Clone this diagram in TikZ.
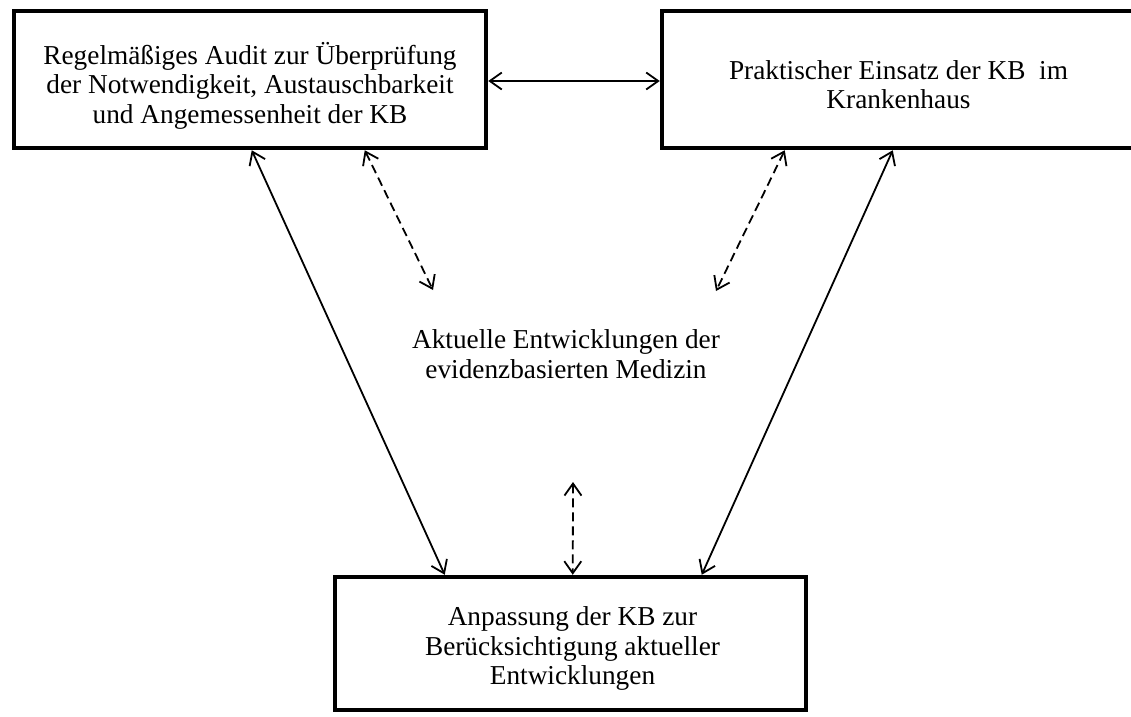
\documentclass[tikz,border=0pt]{standalone}
\usepackage{fontspec}
\setmainfont{Liberation Serif}
\usetikzlibrary{arrows.meta,calc}
\begin{document}
\begin{tikzpicture}[x=1pt,y=-1pt,
  txt/.style={font=\fontsize{27.3}{29.5}\selectfont},
  box/.style={draw, line width=4.5pt, rectangle, inner sep=0pt},
  boxtext/.style={align=center, inner sep=0pt, txt},
  barb/.tip={Straight Barb[length=12pt,width=17pt,line width=1.8pt]},
  link/.style={line width=1.8pt, barb-barb},
  dashlink/.style={link, dash pattern=on 9pt off 5pt},
  note/.style={align=center, inner sep=0pt, txt}]
\useasboundingbox (0,0) rectangle (1131,716);

% the three process boxes
\node[box, minimum width=472pt, minimum height=137pt] (audit) at (250,79.5) {};
\node[box, minimum width=475pt, minimum height=137pt] (practice) at (899.5,79.5) {};
\node[box, minimum width=471pt, minimum height=133pt] (adapt) at (570.5,643.5) {};

% their captions, set a little below the box centres
\node[boxtext] (auditText) at ($(audit.center)+(0,6)$)
  {Regelmäßiges Audit zur Überprüfung\\der Notwendigkeit, Austauschbarkeit\\und Angemessenheit der KB};
\node[boxtext] (practiceText) at ($(practice.center)+(-1,5)$)
  {Praktischer Einsatz der KB\ \ im\\Krankenhaus};
\node[boxtext] (adaptText) at ($(adapt.center)+(2,5)$)
  {Anpassung der KB zur\\Berücksichtigung aktueller\\Entwicklungen};

% central influence
\node[note] (ebm) at (566,354)
  {Aktuelle Entwicklungen der\\evidenzbasierten Medizin};
\coordinate (dl) at (433,290);
\coordinate (dr) at (716,291);
\coordinate (dv) at (573,482);

% solid cycle links
\draw[link] ($(audit.east)+(0,1.5)$) -- ($(practice.west)+(0,1.5)$);
\draw[link] ($(audit.south west)+(240,0)$) -- ($(adapt.north west)+(112,0)$);
\draw[link] ($(practice.south west)+(233,0)$) -- ($(adapt.north west)+(369,0)$);

% dashed links to the evidence base
\draw[dashlink] ($(audit.south west)+(353,0)$) -- (dl);
\draw[dashlink] ($(practice.south west)+(125,0)$) -- (dr);
\draw[dashlink] (dv) -- ($(adapt.north west)+(240,0)$);
\end{tikzpicture}
\end{document}
